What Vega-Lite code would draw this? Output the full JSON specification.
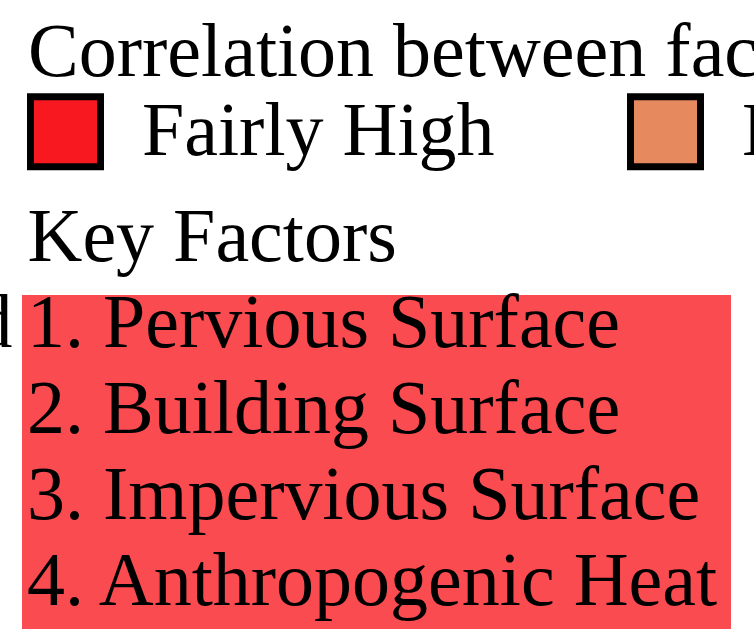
{
  "$schema": "https://vega.github.io/schema/vega-lite/v6.json",
  "autosize": {"type": "none"},
  "width": 709,
  "height": 334,
  "padding": {"left": 22, "top": 295, "right": 23, "bottom": 0},
  "background": "white",
  "title": {
    "text": "Correlation between factors and UHI",
    "anchor": "start",
    "frame": "group",
    "font": "Liberation Serif",
    "fontSize": 76,
    "fontWeight": "normal",
    "color": "black",
    "dx": 6,
    "offset": -4
  },
  "data": {
    "values": [
      {"rank": 1, "factor": "1. Pervious Surface", "level": "Fairly High"},
      {"rank": 2, "factor": "2. Building Surface", "level": "Fairly High"},
      {"rank": 3, "factor": "3. Impervious Surface", "level": "Fairly High"},
      {"rank": 4, "factor": "4. Anthropogenic Heat", "level": "Fairly High"}
    ]
  },
  "layer": [
    {
      "mark": {"type": "rect", "opacity": 0.78},
      "encoding": {
        "y": {
          "field": "rank",
          "type": "ordinal",
          "scale": {"domain": [1, 2, 3, 4], "range": [0, 344], "paddingInner": 0, "paddingOuter": 0},
          "axis": {
            "title": null,
            "domain": false,
            "ticks": false,
            "labelPadding": 10,
            "labelFont": "Liberation Serif",
            "labelFontSize": 76,
            "labelColor": "black",
            "labelBaseline": "alphabetic",
            "labelOffset": 9,
            "labelLimit": 1000,
            "labelExpr": "datum.value == 1 ? 'Ranked' : ''"
          }
        },
        "color": {
          "field": "level",
          "type": "nominal",
          "scale": {"domain": ["Fairly High", "Moderate"], "range": ["#f8181f", "#e6895f"]},
          "legend": {
            "title": null,
            "orient": "top",
            "direction": "horizontal",
            "padding": 5,
            "symbolType": "square",
            "symbolSize": 4900,
            "symbolStrokeColor": "black",
            "symbolStrokeWidth": 7,
            "symbolOpacity": 1,
            "labelFont": "Liberation Serif",
            "labelFontSize": 76,
            "labelColor": "black",
            "labelLimit": 1000,
            "labelOffset": 38,
            "columnPadding": 121,
            "offset": 13
          }
        }
      }
    },
    {
      "mark": {"type": "text", "align": "left", "baseline": "alphabetic", "dx": 5, "dy": 9, "font": "Liberation Serif", "fontSize": 76, "color": "black"},
      "encoding": {
        "x": {
          "datum": 0,
          "type": "quantitative",
          "scale": {"domain": [0, 1]},
          "axis": {
            "orient": "top",
            "title": "Key Factors",
            "labels": false,
            "ticks": false,
            "domain": false,
            "grid": false,
            "titleFont": "Liberation Serif",
            "titleFontSize": 76,
            "titleFontWeight": "normal",
            "titleColor": "black",
            "titleAnchor": "start",
            "titleAlign": "left",
            "titleBaseline": "alphabetic",
            "titleX": 5,
            "titlePadding": 35
          }
        },
        "y": {"field": "rank", "type": "ordinal"},
        "text": {"field": "factor"}
      }
    }
  ],
  "config": {"view": {"stroke": null}}
}
